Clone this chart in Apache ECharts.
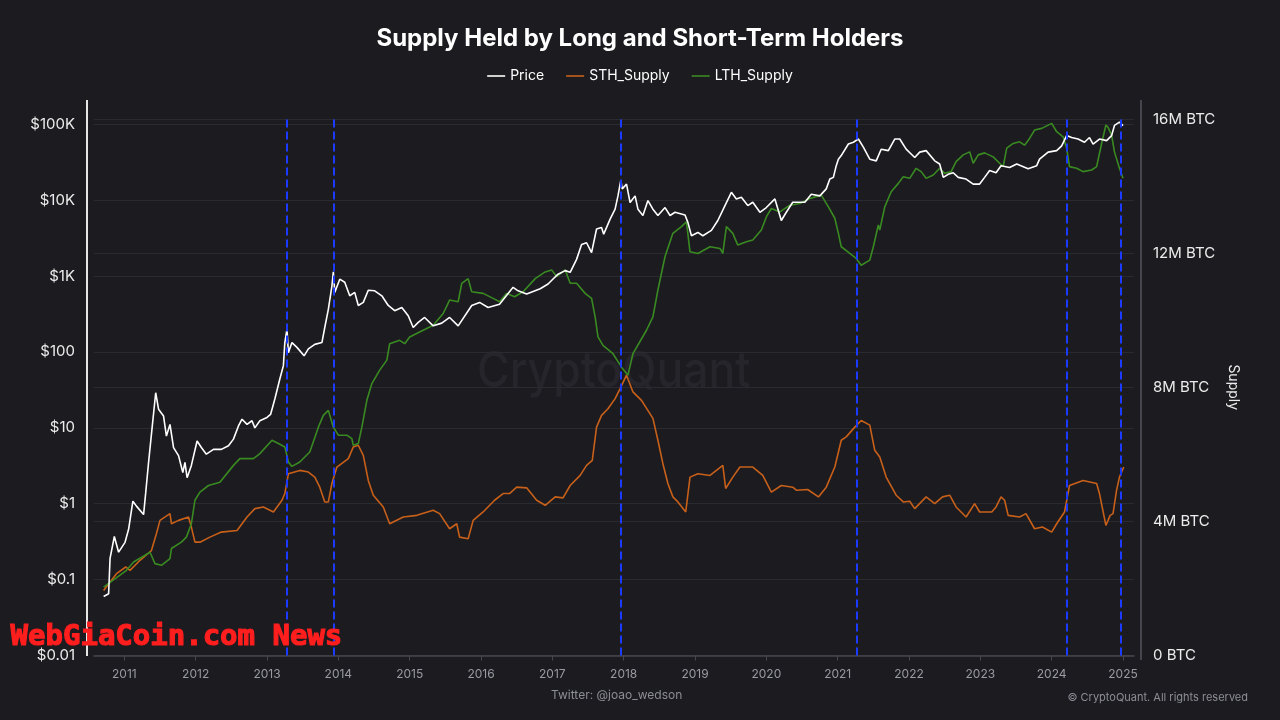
<!DOCTYPE html>
<html>
<head>
<meta charset="utf-8">
<script src="https://cdn.jsdelivr.net/npm/echarts@6/dist/echarts.min.js"></script>
<style>
html,body{margin:0;padding:0;background:#1b1b20;}
#chart{width:1280px;height:720px;}
</style>
</head>
<body>
<div id="chart"></div>
<script>
// ---- data (x = decimal year) ----
const yearTicks = [2011,2012,2013,2014,2015,2016,2017,2018,2019,2020,2021,2022,2023,2024,2025];
const priceTickLabels = ['$0.01','$0.1','$1','$10','$100','$1K','$10K','$100K'];
const supplyTickLabels = ['0 BTC','4M BTC','8M BTC','12M BTC','16M BTC'];
const peakDates = [2013.28, 2013.93, 2017.96, 2021.27, 2024.21, 2024.97];

const priceSeries = [
[2010.71,0.06],[2010.78,0.065],[2010.80,0.19],[2010.86,0.37],[2010.92,0.23],[2011.01,0.31],[2011.06,0.46],
[2011.12,1.08],[2011.17,0.93],[2011.27,0.72],[2011.30,1.4],[2011.34,3.5],[2011.38,8.2],[2011.44,29],
[2011.48,17.6],[2011.55,14.3],[2011.59,7.8],[2011.64,11.1],[2011.69,5.5],[2011.76,4.3],[2011.82,2.58],
[2011.85,3.5],[2011.88,2.2],[2011.94,3.2],[2012.02,6.7],[2012.08,5.5],[2012.15,4.5],[2012.25,5.2],
[2012.36,5.2],[2012.46,5.8],[2012.53,7.1],[2012.60,10.6],[2012.65,13],[2012.72,11.1],[2012.79,12.4],
[2012.83,10],[2012.90,12.4],[2013.00,13.7],[2013.05,15],[2013.11,24],[2013.18,44],[2013.23,66],
[2013.25,133],[2013.28,200],[2013.30,98],[2013.35,133],[2013.42,115],[2013.52,89],[2013.58,110],
[2013.67,126],[2013.77,133],[2013.81,210],[2013.86,365],[2013.91,740],[2013.93,1140],[2013.95,610],
[2014.02,910],[2014.09,830],[2014.16,550],[2014.23,610],[2014.28,410],[2014.35,450],[2014.42,650],
[2014.51,640],[2014.61,550],[2014.70,410],[2014.79,350],[2014.89,385],[2014.98,300],[2015.05,210],
[2015.12,245],[2015.21,285],[2015.33,221],[2015.45,240],[2015.56,285],[2015.68,221],[2015.87,410],
[2015.98,450],[2016.10,385],[2016.26,425],[2016.45,710],[2016.52,640],[2016.64,580],[2016.83,680],
[2016.94,785],[2017.01,915],[2017.08,1060],[2017.18,1180],[2017.25,1120],[2017.34,1660],[2017.41,2600],
[2017.48,2750],[2017.55,2040],[2017.62,4170],[2017.69,4370],[2017.72,3570],[2017.81,5630],[2017.88,7620],
[2017.92,11400],[2017.96,18200],[2017.98,14100],[2018.04,16300],[2018.09,9300],[2018.16,11400],
[2018.20,7620],[2018.27,6280],[2018.34,9900],[2018.41,7620],[2018.48,6280],[2018.58,8000],[2018.65,6280],
[2018.72,6930],[2018.86,6390],[2018.90,5100],[2018.95,3400],[2019.04,3760],[2019.11,3400],[2019.23,4000],
[2019.32,5400],[2019.42,8500],[2019.51,12700],[2019.58,10400],[2019.65,10900],[2019.74,8500],
[2019.81,9400],[2019.91,6930],[2020.00,8000],[2020.12,10400],[2020.21,5400],[2020.28,6930],[2020.37,9400],
[2020.54,9400],[2020.63,12000],[2020.75,11400],[2020.84,14100],[2020.89,19000],[2020.94,20000],
[2020.98,28500],[2021.01,34700],[2021.05,38700],[2021.15,55000],[2021.22,58000],[2021.29,64000],
[2021.36,50000],[2021.45,34700],[2021.54,33000],[2021.61,47000],[2021.71,45000],[2021.80,64000],
[2021.87,64000],[2021.96,47000],[2022.08,36500],[2022.15,43000],[2022.24,45000],[2022.36,33000],
[2022.43,30000],[2022.48,20000],[2022.55,22000],[2022.62,23000],[2022.69,20000],[2022.80,19000],
[2022.90,16300],[2022.99,16300],[2023.06,20000],[2023.13,24600],[2023.22,23000],[2023.29,28500],
[2023.41,27000],[2023.51,30000],[2023.67,26000],[2023.79,28500],[2023.83,34700],[2023.95,43000],
[2024.07,45000],[2024.14,52000],[2024.21,71000],[2024.28,67000],[2024.37,64000],[2024.46,58000],
[2024.53,67000],[2024.58,55000],[2024.67,64000],[2024.77,61000],[2024.84,71000],[2024.88,96600],
[2024.95,107000],[2025.00,96000]
];

// supply in millions of BTC
const sthSeries = [
[2010.71,1.94],[2010.89,2.44],[2011.02,2.64],[2011.08,2.54],[2011.22,2.84],[2011.38,3.13],[2011.45,3.63],
[2011.50,4.03],[2011.64,4.23],[2011.66,3.93],[2011.76,4.03],[2011.90,4.13],[2011.94,3.83],[2011.99,3.38],
[2012.06,3.38],[2012.20,3.53],[2012.36,3.68],[2012.58,3.73],[2012.72,4.13],[2012.83,4.38],[2012.95,4.43],
[2013.09,4.28],[2013.21,4.63],[2013.25,4.83],[2013.30,5.42],[2013.46,5.52],[2013.58,5.47],[2013.67,5.32],
[2013.74,5.02],[2013.81,4.58],[2013.86,4.58],[2013.91,5.13],[2013.98,5.62],[2014.14,5.87],[2014.21,6.22],
[2014.28,6.27],[2014.35,5.97],[2014.42,5.22],[2014.49,4.78],[2014.63,4.43],[2014.72,3.93],[2014.91,4.13],
[2015.10,4.18],[2015.33,4.33],[2015.42,4.23],[2015.56,3.78],[2015.66,3.93],[2015.70,3.53],[2015.82,3.48],
[2015.89,4.03],[2016.03,4.28],[2016.19,4.63],[2016.31,4.83],[2016.40,4.83],[2016.50,5.02],[2016.64,5.0],
[2016.78,4.63],[2016.90,4.48],[2017.04,4.73],[2017.15,4.70],[2017.25,5.07],[2017.39,5.37],[2017.48,5.67],
[2017.56,5.82],[2017.62,6.81],[2017.69,7.16],[2017.78,7.36],[2017.88,7.66],[2017.95,7.96],[2018.04,8.36],
[2018.13,7.86],[2018.25,7.61],[2018.41,7.07],[2018.48,6.42],[2018.55,5.72],[2018.62,5.13],[2018.69,4.73],
[2018.76,4.58],[2018.87,4.28],[2018.93,5.32],[2019.04,5.42],[2019.21,5.37],[2019.39,5.67],[2019.43,4.98],
[2019.53,5.32],[2019.63,5.62],[2019.81,5.62],[2019.95,5.37],[2020.07,4.87],[2020.21,5.07],[2020.37,5.02],
[2020.42,4.93],[2020.58,4.95],[2020.73,4.73],[2020.84,5.02],[2020.96,5.62],[2021.05,6.42],[2021.12,6.52],
[2021.24,6.81],[2021.33,7.01],[2021.45,6.87],[2021.52,6.12],[2021.59,5.92],[2021.68,5.32],[2021.82,4.78],
[2021.92,4.58],[2022.01,4.60],[2022.08,4.38],[2022.24,4.73],[2022.36,4.53],[2022.47,4.73],[2022.57,4.78],
[2022.66,4.43],[2022.80,4.13],[2022.92,4.53],[2022.99,4.28],[2023.16,4.28],[2023.22,4.43],[2023.29,4.73],
[2023.34,4.63],[2023.39,4.18],[2023.55,4.13],[2023.64,4.23],[2023.76,3.78],[2023.87,3.83],[2024.00,3.68],
[2024.07,3.93],[2024.18,4.28],[2024.25,5.07],[2024.44,5.22],[2024.63,5.13],[2024.67,4.83],[2024.76,3.88],
[2024.82,4.18],[2024.86,4.23],[2024.91,4.93],[2024.95,5.32],[2025.01,5.62]
];

const lthSeries = [
[2010.71,2.04],[2011.03,2.54],[2011.13,2.79],[2011.36,3.08],[2011.43,2.74],[2011.52,2.69],[2011.64,2.89],
[2011.66,3.19],[2011.80,3.38],[2011.87,3.53],[2011.94,3.93],[2011.99,4.63],[2012.06,4.87],[2012.18,5.07],
[2012.34,5.17],[2012.53,5.67],[2012.62,5.87],[2012.81,5.87],[2012.90,6.02],[2013.07,6.42],[2013.16,6.32],
[2013.25,6.22],[2013.30,5.77],[2013.35,5.64],[2013.46,5.77],[2013.60,6.07],[2013.72,6.81],[2013.79,7.16],
[2013.86,7.31],[2013.93,6.81],[2014.00,6.57],[2014.12,6.57],[2014.19,6.47],[2014.21,6.27],[2014.28,6.32],
[2014.33,6.81],[2014.40,7.61],[2014.47,8.11],[2014.58,8.51],[2014.68,8.81],[2014.72,9.30],[2014.86,9.40],
[2014.93,9.30],[2015.00,9.50],[2015.14,9.65],[2015.33,9.85],[2015.47,10.2],[2015.56,10.6],[2015.68,10.55],
[2015.73,11.1],[2015.82,11.24],[2015.87,10.85],[2016.03,10.8],[2016.17,10.65],[2016.26,10.55],[2016.36,10.8],
[2016.47,10.7],[2016.59,10.85],[2016.76,11.24],[2016.90,11.44],[2016.99,11.5],[2017.06,11.3],[2017.18,11.5],
[2017.25,11.1],[2017.34,11.1],[2017.46,10.8],[2017.55,10.65],[2017.60,10.1],[2017.64,9.5],[2017.71,9.25],
[2017.85,9.0],[2017.97,8.6],[2018.06,8.36],[2018.13,9.0],[2018.32,9.70],[2018.41,10.1],[2018.48,10.9],
[2018.58,11.9],[2018.69,12.59],[2018.81,12.79],[2018.88,12.93],[2018.93,12.04],[2019.04,11.99],[2019.21,12.19],
[2019.35,12.14],[2019.39,11.99],[2019.44,12.79],[2019.53,12.59],[2019.60,12.24],[2019.72,12.34],[2019.81,12.39],
[2019.93,12.69],[2020.00,13.08],[2020.07,13.33],[2020.19,13.23],[2020.33,13.43],[2020.47,13.48],[2020.61,13.63],
[2020.77,13.73],[2020.87,13.38],[2020.96,13.04],[2021.01,12.59],[2021.05,12.19],[2021.17,11.99],[2021.26,11.84],
[2021.33,11.64],[2021.45,11.79],[2021.50,12.19],[2021.57,12.84],[2021.59,12.69],[2021.66,13.38],[2021.75,13.83],
[2021.85,14.08],[2021.92,14.28],[2022.01,14.23],[2022.10,14.53],[2022.17,14.43],[2022.24,14.23],[2022.34,14.33],
[2022.43,14.53],[2022.50,14.38],[2022.59,14.43],[2022.66,14.73],[2022.76,14.93],[2022.85,15.02],[2022.90,14.68],
[2022.97,14.93],[2023.06,14.99],[2023.18,14.87],[2023.27,14.68],[2023.32,14.58],[2023.37,15.13],[2023.46,15.27],
[2023.55,15.32],[2023.62,15.22],[2023.69,15.42],[2023.76,15.67],[2023.86,15.72],[2024.00,15.87],[2024.07,15.62],
[2024.16,15.47],[2024.21,15.13],[2024.25,14.58],[2024.35,14.53],[2024.44,14.43],[2024.56,14.48],[2024.63,14.58],
[2024.70,15.27],[2024.76,15.82],[2024.79,15.75],[2024.84,15.52],[2024.88,15.02],[2024.95,14.53],[2025.00,14.23]
];

// ---- chart ----
const chart = echarts.init(document.getElementById('chart'), null, {renderer:'canvas'});
const FONT = 'Inter, "Noto Sans", sans-serif';

chart.setOption({
  backgroundColor: '#1b1b20',
  animation: false,
  textStyle: {fontFamily: FONT},
  title: {
    text: 'Supply Held by Long and Short-Term Holders',
    left: 'center', top: 22,
    textStyle: {color: '#ffffff', fontSize: 24, fontWeight: 'bold', fontFamily: FONT}
  },
  legend: {
    top: 64, left: 'center',
    icon: 'rect',
    itemWidth: 18, itemHeight: 1.6, itemGap: 22,
    textStyle: {color: '#ffffff', fontSize: 14, fontFamily: FONT},
    data: ['Price','STH_Supply','LTH_Supply']
  },
  grid: {left: 94, right: 146, top: 119, bottom: 64.5},
  xAxis: {
    type: 'value', min: 2010.575, max: 2025.154,
    splitLine: {show: false},
    axisLine: {show: true, lineStyle: {color: '#47474f', width: 1.5}},
    axisTick: {show: true, customValues: yearTicks, length: 5, lineStyle: {color: '#47474f'}},
    axisLabel: {customValues: yearTicks, color: '#9a9aa3', fontSize: 12, margin: 13,
      formatter: v => String(Math.round(v))}
  },
  yAxis: [
    {
      type: 'log', logBase: 10, min: 0.01, max: 117500, splitNumber: 7,
      position: 'left', offset: 7,
      axisLine: {show: false}, axisTick: {show: false},
      splitLine: {show: true, lineStyle: {color: '#2a2a31', width: 1}},
      axisLabel: {color: '#ececec', fontSize: 15, margin: 12, showMaxLabel: false,
        formatter: function (v) {
          const l = Math.log10(v), r = Math.round(l);
          if (Math.abs(l - r) > 0.02) return '';
          return priceTickLabels[r + 2] || '';
        }}
    },
    {
      type: 'value', min: 0, max: 16, interval: 4,
      position: 'right', offset: 7,
      name: 'Supply', nameLocation: 'middle', nameGap: 84, nameRotate: -90,
      nameTextStyle: {color: '#ececec', fontSize: 14, fontFamily: FONT},
      axisLine: {show: false}, axisTick: {show: false},
      splitLine: {show: true, lineStyle: {color: '#2a2a31', width: 1}},
      axisLabel: {color: '#ececec', fontSize: 15, margin: 12,
        formatter: v => supplyTickLabels[Math.round(v / 4)] || ''}
    }
  ],
  graphic: [
    {type: 'text', x: 477, y: 347, scaleX: 0.89, z: 0, silent: true,
      style: {text: 'CryptoQuant', fill: '#25252b', font: '500 50px ' + FONT}},
    {type: 'line', z: 50, shape: {x1: 87, y1: 100, x2: 87, y2: 656}, style: {stroke: '#e6e6e6', lineWidth: 2}},
    {type: 'line', z: 50, shape: {x1: 1141, y1: 100, x2: 1141, y2: 660}, style: {stroke: '#55555d', lineWidth: 1.5}},
    {type: 'text', left: 551, top: 689, style: {text: 'Twitter: @joao_wedson', fill: '#8d8d96', font: '12px ' + FONT}},
    {type: 'text', right: 32, top: 692, style: {text: '\u00A9 CryptoQuant. All rights reserved', fill: '#8d8d96', font: '11px ' + FONT}},
    {type: 'text', left: 10, top: 622, z: 100,
      style: {text: 'WebGiaCoin.com News', fill: '#ff1e1e', stroke: '#ff1e1e', lineWidth: 1.2,
        font: 'bold 29px "DejaVu Sans Mono", monospace'}}
  ],
  series: [
    {
      name: 'Price', type: 'line', yAxisIndex: 0, data: priceSeries,
      symbol: 'none', z: 4,
      lineStyle: {color: '#ffffff', width: 1.6}, itemStyle: {color: '#ffffff'},
      markLine: {
        silent: true, symbol: 'none', label: {show: false},
        lineStyle: {color: '#1d3bff', type: [8, 4], width: 2},
        data: peakDates.map(d => ({xAxis: d}))
      }
    },
    {
      name: 'STH_Supply', type: 'line', yAxisIndex: 1, data: sthSeries,
      symbol: 'none', z: 3,
      lineStyle: {color: '#c8601a', width: 1.6}, itemStyle: {color: '#c8601a'}
    },
    {
      name: 'LTH_Supply', type: 'line', yAxisIndex: 1, data: lthSeries,
      symbol: 'none', z: 3,
      lineStyle: {color: '#3a8a22', width: 1.6}, itemStyle: {color: '#3a8a22'}
    }
  ]
});
</script>
</body>
</html>
